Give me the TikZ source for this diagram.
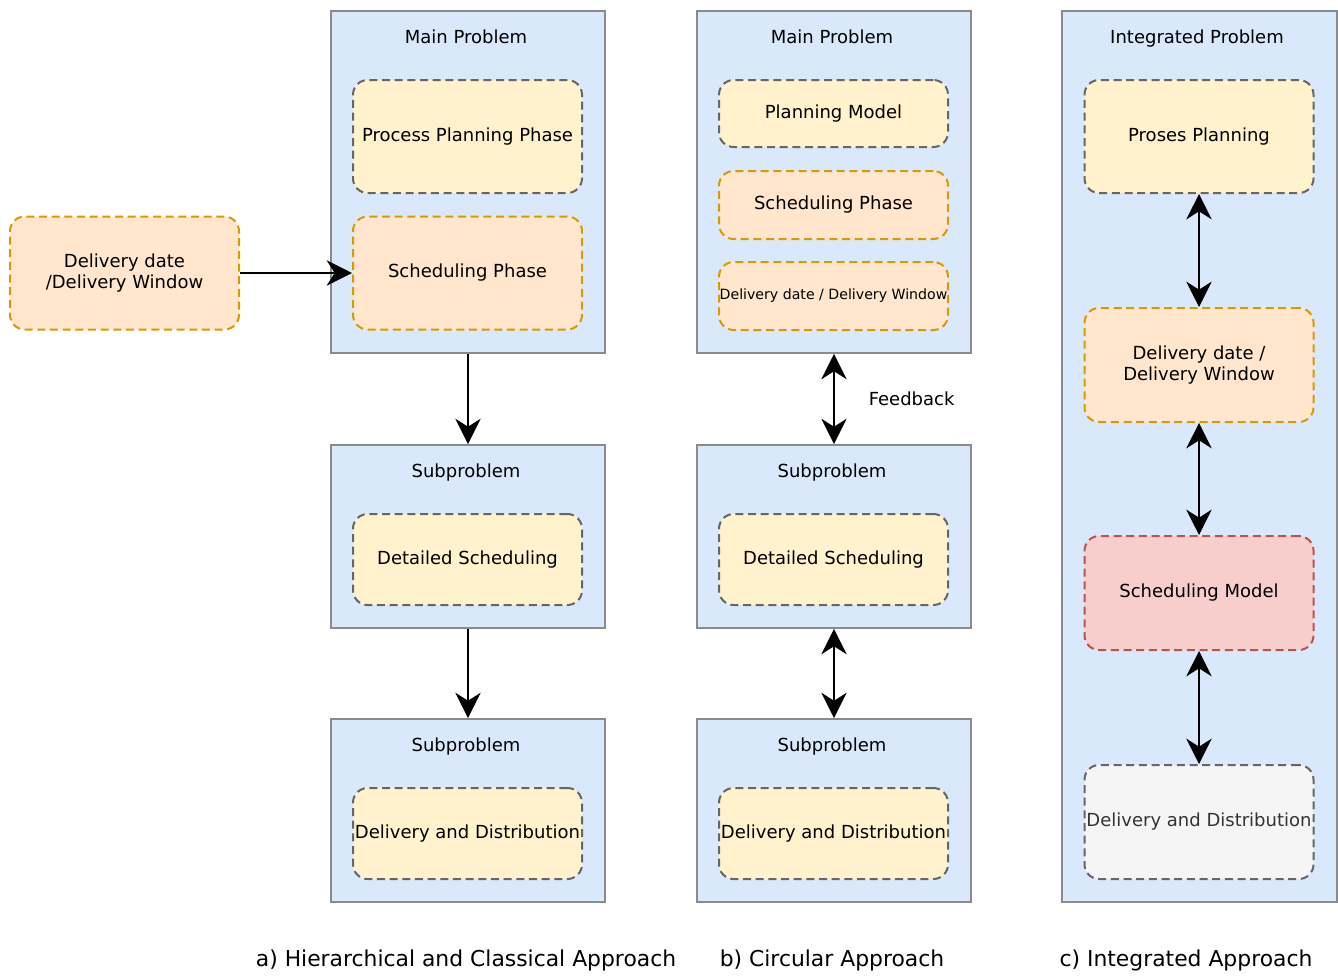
\documentclass[tikz,border=0pt]{standalone}
\usepackage{fontspec}
\setmainfont{DejaVu Sans}
\usetikzlibrary{arrows.meta}
\definecolor{probfill}{HTML}{DAE8FC}
\definecolor{probline}{HTML}{8A8A8A}
\definecolor{yelfill}{HTML}{FFF2CC}
\definecolor{orafill}{HTML}{FFE6CC}
\definecolor{oraline}{HTML}{D79B00}
\definecolor{redfill}{HTML}{F8CECC}
\definecolor{redline}{HTML}{B85450}
\definecolor{grafill}{HTML}{F5F5F5}
\definecolor{graline}{HTML}{666666}
\definecolor{gratext}{HTML}{333333}

\begin{document}
\begin{tikzpicture}[x=0.75pt,y=-0.75pt,
  font=\fontsize{13.5pt}{16pt}\selectfont,
  prob/.style={draw=probline,fill=probfill,line width=1.4pt,minimum width=205.5pt,inner sep=0pt},
  title/.style={text height=1.6ex,text depth=0.3ex,inner sep=0pt},
  phase/.style={draw,rounded corners=11pt,line width=1.5pt,dash pattern=on 6pt off 3.5pt,
    minimum width=171.75pt,inner sep=0pt,align=center},
  yel/.style={phase,draw=graline,fill=yelfill},
  ora/.style={phase,draw=oraline,fill=orafill},
  red/.style={phase,draw=redline,fill=redfill},
  gra/.style={phase,draw=graline,fill=grafill,text=gratext},
  caption/.style={title,font=\fontsize{16.4pt}{19pt}\selectfont},
  conn/.style={line width=1.5pt,-{Stealth[length=19pt,width=19pt,inset=6pt]}},
  biconn/.style={line width=1.5pt,{Stealth[length=19pt,width=19pt,inset=6pt]}-{Stealth[length=19pt,width=19pt,inset=6pt]}}]
\useasboundingbox (0,0) rectangle (1338,975);

% a) hierarchical
\node[prob,minimum height=256.5pt] (a1) at (468,182) {};
\node[title] (a1t) at (466,39) {Main Problem};
\node[yel,minimum height=84.75pt] (a1p) at (467.5,136.5) {Process Planning Phase};
\node[ora,minimum height=84.75pt] (a1s) at (467.5,273) {Scheduling Phase};
\node[ora,minimum height=84.75pt] (dd) at (124.5,273) {Delivery date\\/Delivery Window};
\node[prob,minimum height=137.25pt] (a2) at (468,536.5) {};
\node[title] (a2t) at (466,473) {Subproblem};
\node[yel,minimum height=68.25pt] (a2d) at (467.5,559.5) {Detailed Scheduling};
\node[prob,minimum height=137.25pt] (a3) at (468,810.5) {};
\node[title] (a3t) at (466,747) {Subproblem};
\node[yel,minimum height=68.25pt] (a3d) at (467.5,833.5) {Delivery and Distribution};
\draw [conn](dd) -- (a1s);
\draw [conn](a1) -- (a2);
\draw [conn](a2) -- (a3);

% b) circular
\node[prob,minimum height=256.5pt] (b1) at (834,182) {};
\node[title] (b1t) at (832,39) {Main Problem};
\node[yel,minimum height=50.25pt] (b1p) at (833.5,113.5) {Planning Model};
\node[ora,minimum height=51pt] (b1s) at (833.5,205) {Scheduling Phase};
\node[ora,minimum height=51pt,font=\fontsize{10.6pt}{13pt}\selectfont] (b1d) at (833.5,296) {Delivery date / Delivery Window};
\node[prob,minimum height=137.25pt] (b2) at (834,536.5) {};
\node[title] (b2t) at (832,473) {Subproblem};
\node[yel,minimum height=68.25pt] (b2d) at (833.5,559.5) {Detailed Scheduling};
\node[prob,minimum height=137.25pt] (b3) at (834,810.5) {};
\node[title] (b3t) at (832,747) {Subproblem};
\node[yel,minimum height=68.25pt] (b3d) at (833.5,833.5) {Delivery and Distribution};
\draw [biconn](b1) -- (b2) node[midway,right=22pt] {Feedback};
\draw [biconn](b2) -- (b3);

% c) integrated
\node[prob,minimum width=206.25pt,minimum height=668.25pt] (c1) at (1199.5,456.5) {};
\node[title] (c1t) at (1197,39) {Integrated Problem};
\node[yel,minimum height=84.75pt] (c1p) at (1199,136.5) {Proses Planning};
\node[ora,minimum height=85.5pt] (c1d) at (1199,365) {Delivery date /\\Delivery Window};
\node[red,minimum height=85.5pt] (c1s) at (1199,593) {Scheduling Model};
\node[gra,minimum height=85.5pt] (c1r) at (1199,822) {Delivery and Distribution};
\draw [biconn](c1p) -- (c1d);
\draw [biconn](c1d) -- (c1s);
\draw [biconn](c1s) -- (c1r);

% captions
\node[caption] (capa) at (466,962) {a) Hierarchical and Classical Approach};
\node[caption] (capb) at (832,962) {b) Circular Approach};
\node[caption] (capc) at (1186,962) {c) Integrated Approach};
\end{tikzpicture}
\end{document}
